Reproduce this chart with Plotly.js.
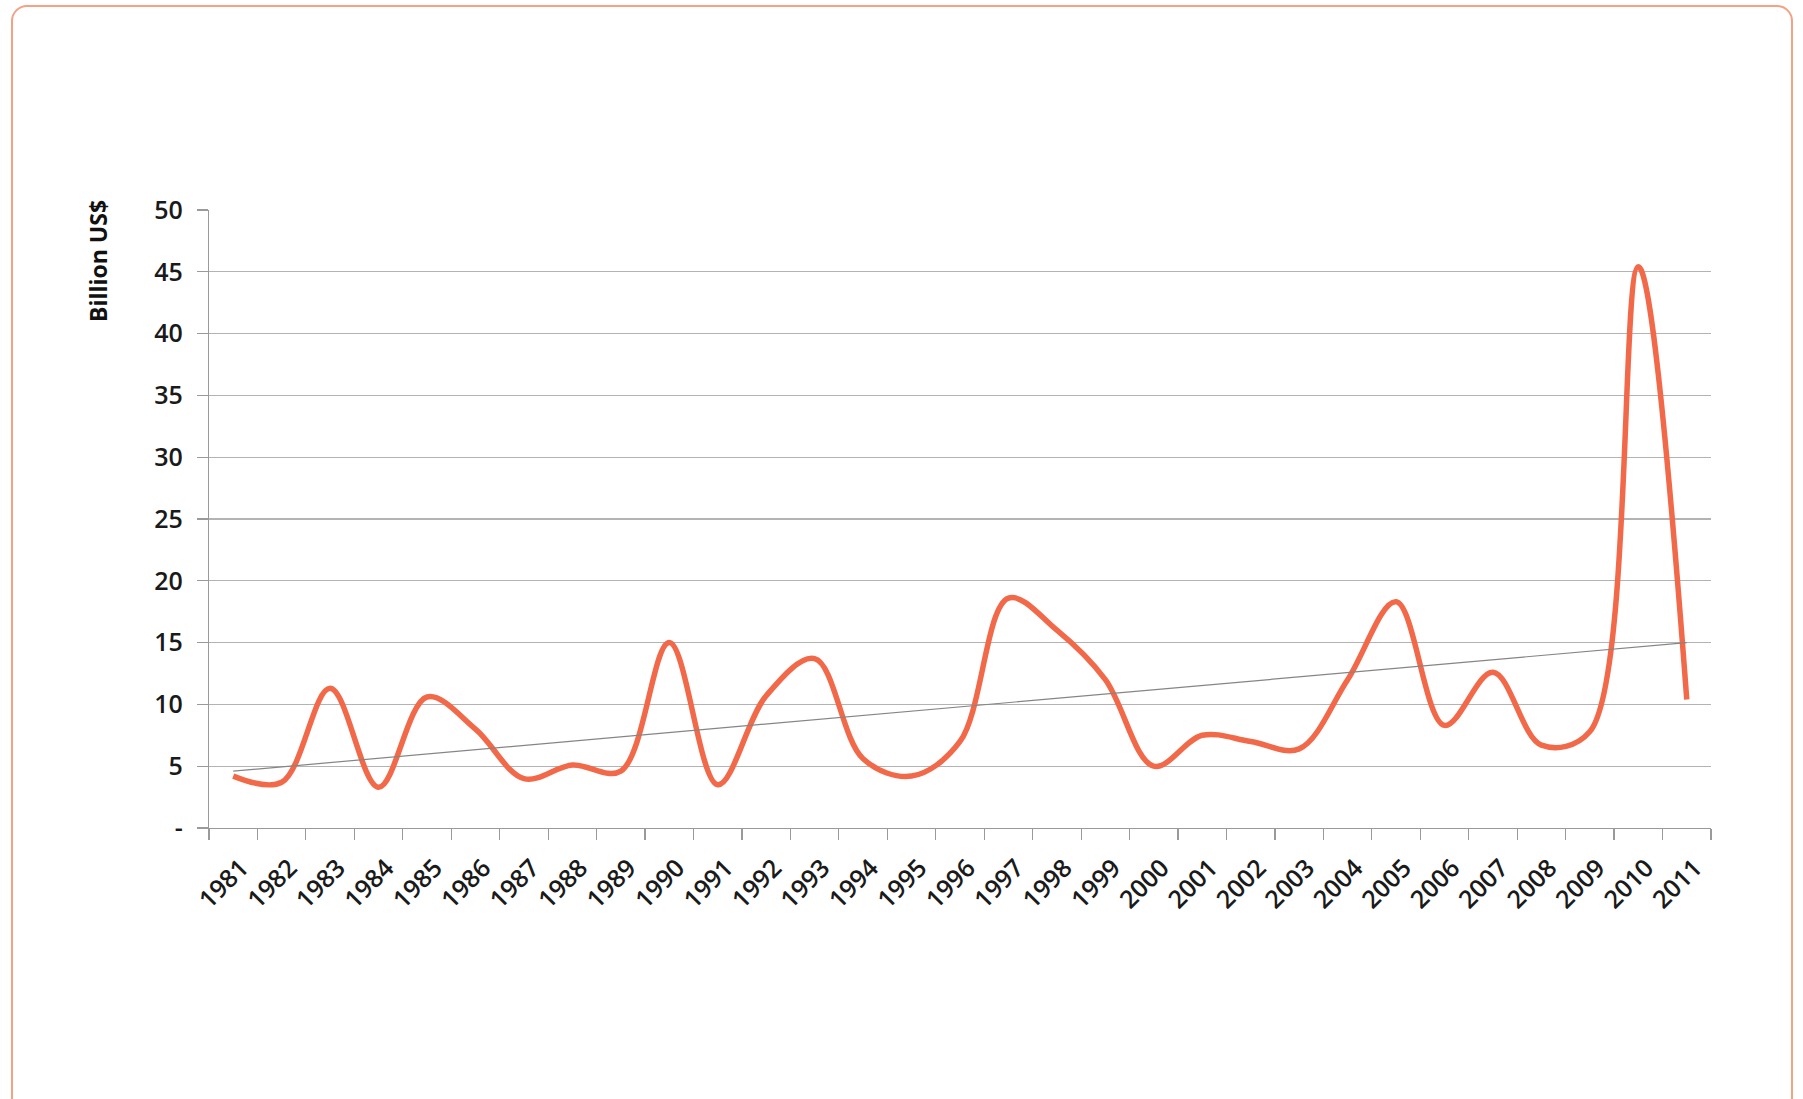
<!DOCTYPE html>
<html>
<head>
<meta charset="utf-8">
<script src="https://cdn.plot.ly/plotly-3.0.1.min.js"></script>
<style>
  html, body { margin: 0; padding: 0; background: #ffffff; overflow: hidden; }
  #frame { position: absolute; left: 11px; top: 5px; width: 1782px; height: 1200px;
           border: 2px solid #f4a184; border-radius: 16px; box-sizing: border-box; }
  #chart { position: absolute; left: 0; top: 0; width: 1803px; height: 1099px; }
</style>
</head>
<body>
<div id="frame"></div>
<div id="chart"></div>
<script>
const years = ['1981','1982','1983','1984','1985','1986','1987','1988','1989','1990',
               '1991','1992','1993','1994','1995','1996','1997','1998','1999','2000',
               '2001','2002','2003','2004','2005','2006','2007','2008','2009','2010','2011'];
const values = [4.2, 3.7, 11.3, 3.3, 10.6, 8.0, 4.0, 5.1, 4.6, 15.0,
                3.5, 10.7, 13.7, 5.6, 4.2, 7.0, 18.6, 16.0, 12.0, 5.0,
                7.5, 7.0, 6.4, 12.0, 18.3, 8.3, 12.6, 6.7, 7.8, 45.4, 10.4];
const trendYears = ['1981', '2011'];
const trendValues = [4.6, 15.0];
const yTickVals = [0, 5, 10, 15, 20, 25, 30, 35, 40, 45, 50];
const yTickText = ['-', '5', '10', '15', '20', '25', '30', '35', '40', '45', '50'];
const yTitle = 'Billion US$';

const font = '"Open Sans", "DejaVu Sans", sans-serif';

const traces = [
  {
    x: years, y: values, type: 'scatter', mode: 'lines',
    line: { color: '#f2694a', width: 5.5, shape: 'spline', smoothing: 1.0 },
    showlegend: false
  },
  {
    x: trendYears, y: trendValues, type: 'scatter', mode: 'lines',
    line: { color: '#858585', width: 1.2 }, hoverinfo: 'skip', showlegend: false
  }
];

const layout = {
  width: 1803, height: 1099,
  margin: { l: 209, r: 92, t: 210, b: 271 },
  paper_bgcolor: 'rgba(0,0,0,0)', plot_bgcolor: 'rgba(0,0,0,0)',
  font: { family: font, color: '#222222', size: 25 },
  showlegend: false,
  xaxis: {
    type: 'category', categoryorder: 'array', categoryarray: years,
    range: [-0.5, 30.5], autorange: false,
    tickson: 'boundaries', ticks: 'outside', ticklen: 11, tickwidth: 1.2, tickcolor: '#9a9a9a',
    showline: true, linecolor: '#9a9a9a', linewidth: 1.2,
    showgrid: false, zeroline: false, tickangle: -45,
    ticklabelstandoff: 14, ticklabelshift: 8,
    tickfont: { family: font, size: 25, weight: 600, color: '#1a1a1a' }, automargin: false
  },
  yaxis: {
    range: [0, 50], autorange: false,
    tickmode: 'array', tickvals: yTickVals, ticktext: yTickText,
    ticks: 'outside', ticklen: 11, tickwidth: 1.2, tickcolor: '#9a9a9a',
    showline: true, linecolor: '#9a9a9a', linewidth: 1.2,
    showgrid: true, gridcolor: '#b3b3b3', gridwidth: 1.2, zeroline: false,
    ticklabelstandoff: 9,
    tickfont: { family: font, size: 25, weight: 600, color: '#1a1a1a' }, automargin: false
  },
  annotations: [
    {
      text: '<b>' + yTitle + '</b>', xref: 'paper', yref: 'paper',
      x: (98 - 209) / 1502, y: (828 - 198) / 618, xanchor: 'center', yanchor: 'top',
      textangle: -90, showarrow: false,
      font: { family: font, size: 23, color: '#111111' }
    }
  ]
};

Plotly.newPlot('chart', traces, layout, { displayModeBar: false, staticPlot: true });
</script>
</body>
</html>
